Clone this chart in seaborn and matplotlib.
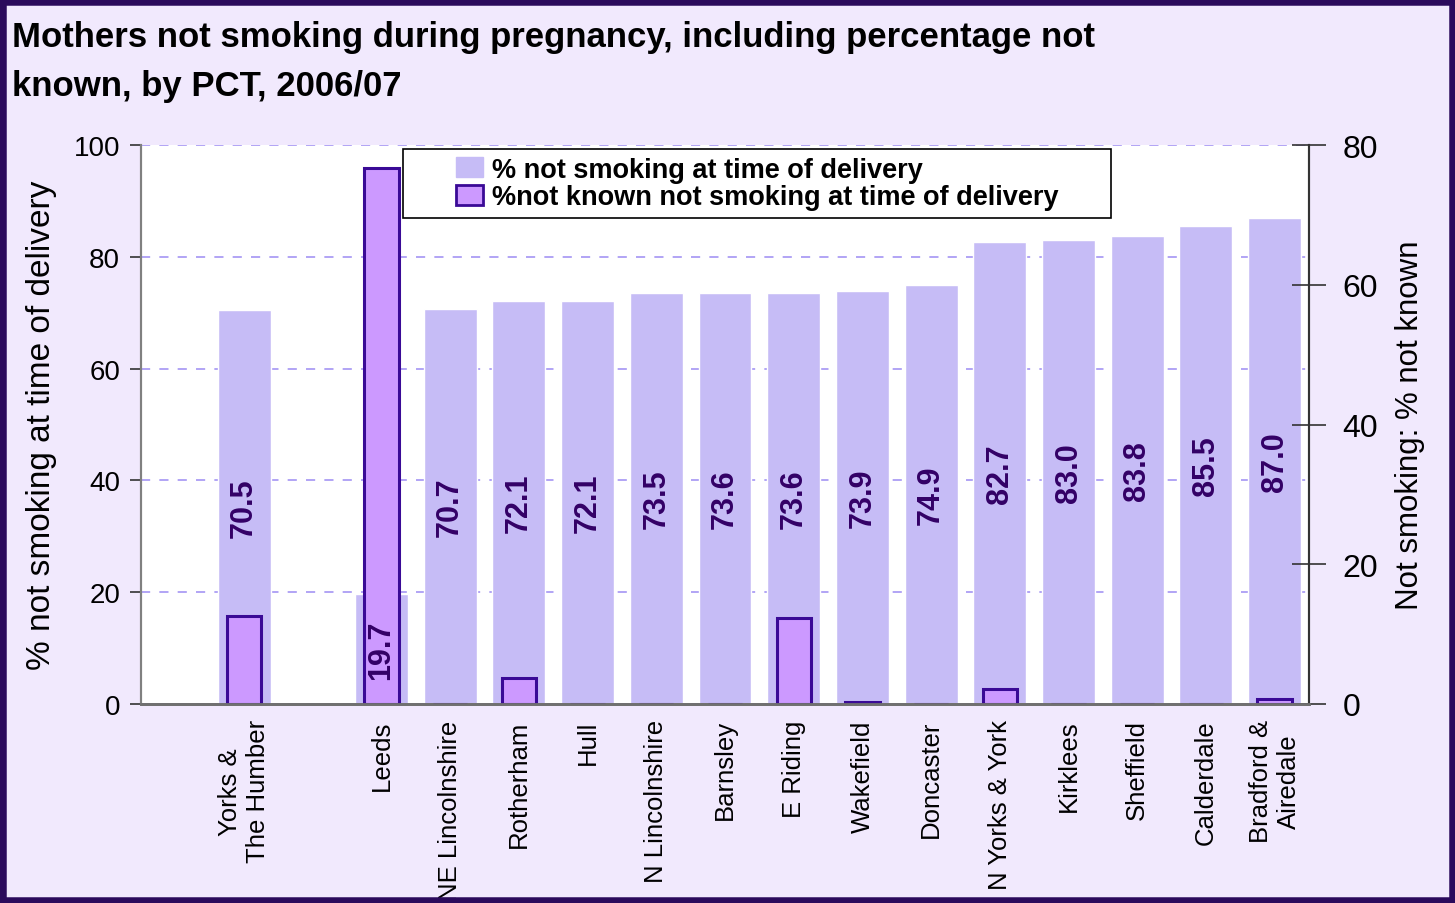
import numpy as np
import pandas as pd
import matplotlib
matplotlib.use("Agg")
import matplotlib.pyplot as plt
import seaborn as sns
from matplotlib.patches import Patch, Rectangle

# ---------------- data ----------------
categories = ["", "Yorks &\nThe Humber", " ", "Leeds", "NE Lincolnshire", "Rotherham",
              "Hull", "N Lincolnshire", "Barnsley", "E Riding", "Wakefield",
              "Doncaster", "N Yorks & York", "Kirklees", "Sheffield", "Calderdale",
              "Bradford &\nAiredale"]
pct_not_smoking = [np.nan, 70.5, np.nan, 19.7, 70.7, 72.1, 72.1, 73.5, 73.6, 73.6,
                   73.9, 74.9, 82.7, 83.0, 83.8, 85.5, 87.0]
pct_not_known = [np.nan, 12.6, np.nan, 76.7, 0.0, 3.7, 0.0, 0.0, 0.0, 12.3,
                 0.3, 0.0, 2.1, 0.0, 0.0, 0.0, 0.7]
left_ticks = [0, 20, 40, 60, 80, 100]
right_ticks = [0, 20, 40, 60, 80]

title = "Mothers not smoking during pregnancy, including percentage not\nknown, by PCT, 2006/07"
series1_name = "% not smoking at time of delivery"
series2_name = "%not known not smoking at time of delivery"
left_label = "% not smoking at time of delivery"
right_label = "Not smoking: % not known"

# ---------------- style ----------------
FIG_BG = "#F1E9FD"
BORDER = "#2B0A5C"
LIGHT = "#C6BCF6"
DARK_FILL = "#CC99FF"
DARK_EDGE = "#3A0A96"
LABEL_COL = "#330066"
GRID_COL = "#9D8CF2"

sns.set_theme(style="white")
plt.rcParams["font.family"] = ["Liberation Sans", "DejaVu Sans"]
plt.rcParams["text.color"] = "black"
plt.rcParams["axes.labelcolor"] = "black"
plt.rcParams["xtick.color"] = "black"
plt.rcParams["ytick.color"] = "black"

df = pd.DataFrame({"cat": categories, "a": pct_not_smoking, "b": pct_not_known})

fig = plt.figure(figsize=(14.55, 9.04), dpi=100)
fig.patch.set_facecolor(FIG_BG)
ax = fig.add_axes([141 / 1455, 1 - 705 / 904, 1168 / 1455, 559 / 904])
ax.set_facecolor("white")

sns.barplot(data=df, x="cat", y="a", order=categories, color=LIGHT, saturation=1,
            width=0.77, ax=ax, zorder=2)
ax.set_ylim(0, 100)
ax.set_yticks(left_ticks)
ax.set_axisbelow(True)
ax.yaxis.grid(True, color=GRID_COL, linestyle=(0, (6, 6)), linewidth=1.1, zorder=0)
ax.xaxis.grid(False)

ax2 = ax.twinx()
sns.barplot(data=df, x="cat", y="b", order=categories, color=DARK_FILL, saturation=1,
            width=0.5, edgecolor=DARK_EDGE, linewidth=2.2, ax=ax2)
ax2.set_ylim(0, 80)
ax2.set_yticks(right_ticks)

# value labels (mid-height of the light bars)
for i, v in enumerate(pct_not_smoking):
    if np.isnan(v):
        continue
    ax2.text(i, v / 2, f"{v:.1f}", transform=ax.transData, rotation=90,
             ha="center", va="center", color=LABEL_COL, fontsize=22,
             fontweight="bold", zorder=10)

# x axis: labels at slot centres, tick marks at slot boundaries
ax.set_xlim(-0.5, len(categories) - 0.5)
ax.set_xticks(range(len(categories)))
ax.set_xticklabels(categories, rotation=90, fontsize=18.5, va="top", ha="center")
ax.set_xticks(np.arange(-0.5, len(categories), 1), minor=True)
ax.tick_params(axis="x", which="major", length=0, pad=11)
ax.tick_params(axis="x", which="minor", length=8, width=1.2, color="#333333", direction="out")
ax.tick_params(axis="y", which="major", length=8, width=1.2, color="#333333",
               direction="out", labelsize=20, pad=7, left=True)
ax2.tick_params(axis="y", which="major", length=24, width=1.2, color="#333333",
                direction="inout", labelsize=23, pad=12, right=True)
ax.set_xlabel("")
ax2.set_xlabel("")

ax.set_ylabel(left_label, fontsize=24, labelpad=12)
ax2.set_ylabel(right_label, fontsize=22.5, labelpad=12)

for a in (ax, ax2):
    a.spines["top"].set_visible(False)
    a.spines["left"].set_color("#808080")
    a.spines["left"].set_linewidth(1.5)
    a.spines["bottom"].set_color("#707070")
    a.spines["bottom"].set_linewidth(2)
    a.spines["right"].set_color("#333333")
    a.spines["right"].set_linewidth(1.5)

# legend box (frame drawn as a rectangle in axes coordinates)
ax2.add_patch(Rectangle((0.2243, 0.8694), 0.6062, 0.1234, transform=ax2.transAxes,
                        facecolor="white", edgecolor="black", linewidth=1.2,
                        zorder=19, clip_on=False))
handles = [Patch(facecolor=LIGHT, edgecolor=LIGHT, label=series1_name),
           Patch(facecolor=DARK_FILL, edgecolor=DARK_EDGE, linewidth=2, label=series2_name)]
leg = ax2.legend(handles=handles, loc="upper left", bbox_to_anchor=(0.270, 0.979),
                 frameon=False, prop={"weight": "bold", "size": 19.5}, handlelength=1.0,
                 handleheight=0.75, handletextpad=0.3, labelspacing=0.05,
                 borderpad=0.0, borderaxespad=0)
leg.set_zorder(20)

fig.text(12 / 1455, 1 - 21 / 904, title, fontsize=25, fontweight="bold",
         ha="left", va="top", linespacing=1.6)

fig.patches.append(Rectangle((0, 0), 1, 1, transform=fig.transFigure, fill=False,
                             edgecolor=BORDER, linewidth=9, zorder=100))

fig.savefig("out.png", dpi=100, facecolor=FIG_BG)
